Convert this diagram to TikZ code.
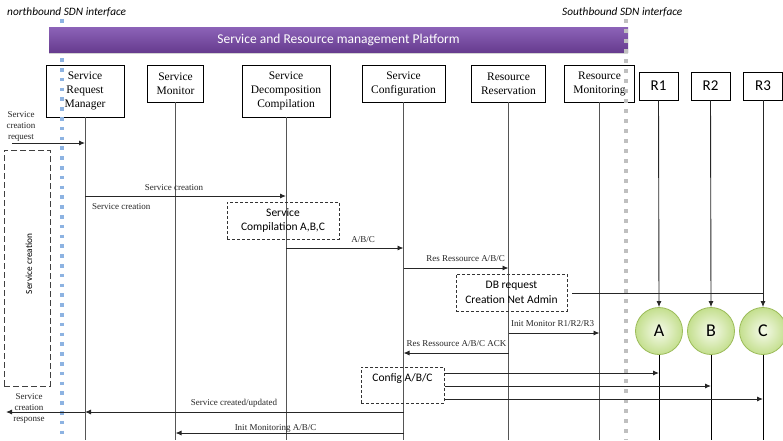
\documentclass[tikz,border=0pt]{standalone}
\usepackage{fontspec}
\setmainfont{Liberation Serif}
\newfontfamily\calfont{Carlito}
\usetikzlibrary{arrows.meta,shadows}
\definecolor{lifegray}{HTML}{555555}
\definecolor{bluedot}{HTML}{8DB3E2}
\definecolor{graydot}{HTML}{BFBFBF}
\definecolor{purtop}{HTML}{8C63B8}
\definecolor{purbot}{HTML}{673C8F}
\definecolor{circin}{HTML}{F5FAEA}
\definecolor{circout}{HTML}{C4DF8E}
\definecolor{circedge}{HTML}{9BBB59}
\tikzset{
  objbox/.style={draw=black, line width=0.8pt, align=center, inner sep=1pt,
    font=\fontsize{11.5}{14}\selectfont},
  rbox/.style={draw=black, line width=0.8pt, minimum width=39pt, minimum height=28pt,
    font=\calfont\fontsize{15}{17}\selectfont},
  lifeline/.style={draw=lifegray, line width=1pt},
  msg/.style={draw=black!85, line width=0.9pt, -{Latex[length=6pt,width=5pt]}},
  plain/.style={draw=black!85, line width=0.9pt},
  note/.style={draw=black!80, line width=0.8pt, dash pattern=on 3pt off 2pt, align=center,
    font=\calfont\fontsize{11.5}{14.5}\selectfont},
  lbl/.style={inner sep=0pt, text=black!85, font=\fontsize{9}{11}\selectfont, align=center},
  circ/.style={circle, draw=circedge, line width=0.8pt, minimum size=47pt, inner sep=0pt,
    inner color=circin, outer color=circout, font=\calfont\fontsize{18}{20}\selectfont},
  iface/.style={inner sep=0pt, anchor=west, font=\calfont\itshape\fontsize{11.3}{13}\selectfont},
}
\begin{document}
\begin{tikzpicture}[x=1pt,y=-1pt]
\useasboundingbox (0,0) rectangle (783,440);

% interface captions
\node[iface] (nb) at (7,12) {northbound SDN interface};
\node[iface] (sb) at (562,12) {Southbound SDN interface};

% object boxes
\node[objbox, minimum width=78pt, minimum height=52pt] (srm) at (85,91) {Service\\Request\\Manager};
\node[objbox, minimum width=56pt, minimum height=37pt] (sm) at (175.5,83.5) {Service\\Monitor};
\node[objbox, minimum width=88pt, minimum height=52pt] (sdc) at (286,91) {Service\\Decomposition\\Compilation};
\node[objbox, minimum width=83pt, minimum height=37pt] (sc) at (403.5,83.5) {Service\\Configuration};
\node[objbox, minimum width=74pt, minimum height=37pt] (rr) at (508.5,83.5) {Resource\\Reservation};
\node[objbox, minimum width=70pt, minimum height=37pt] (rm) at (599.5,83.5) {Resource\\Monitoring};
\node[rbox] (r1) at (658.5,86) {R1};
\node[rbox] (r2) at (710.5,86) {R2};
\node[rbox] (r3) at (763,86) {R3};

% circles
\node[circ] (ca) at (659,331) {A};
\node[circ] (cb) at (711,331) {B};
\node[circ] (cc) at (763,331) {C};

% bottom coordinates
\coordinate (bot) at (0,440);
\coordinate (leftin) at (12,143);
\coordinate (leftout) at (6,412);

% lifelines
\draw[lifeline] (srm.south) -- (srm.south |- bot);
\draw[lifeline] (sm.south) -- (sm.south |- bot);
\draw[lifeline] (sdc.south) -- (sdc.south |- bot);
\draw[lifeline] (sc.south) -- (sc.south |- bot);
\draw[lifeline] (rr.south) -- (rr.south |- bot);
\draw[lifeline] (rm.south) -- (rm.south |- bot);
\draw[msg] (r1.south) -- (ca.north);
\draw[msg] (r2.south) -- (cb.north);
\draw[msg] (r3.south) -- (cc.north);
\draw[lifeline, draw=black] (ca.south) -- (ca.south |- bot);
\draw[lifeline, draw=black] (cb.south) -- (cb.south |- bot);
\draw[lifeline, draw=black] (cc.south) -- (cc.south |- bot);

% northbound dotted line (under the banner)
\draw[line width=3.5pt, draw=bluedot, dash pattern=on 3.5pt off 6.3pt] (62,19) -- (62,440);

% banner
\node[minimum width=579pt, minimum height=25pt, inner sep=0pt, top color=purtop, bottom color=purbot,
  drop shadow={shadow xshift=0pt, shadow yshift=-2pt, opacity=0.35},
  text=white, font=\calfont\fontsize{13.5}{15}\selectfont] (banner) at (338.5,39.5) {Service and Resource management Platform};

% southbound dotted line
\draw[line width=4pt, draw=graydot, dash pattern=on 4pt off 6pt] (626,19) -- (626,440);

% service creation request
\node[lbl] (screq) at (21,126) {Service\\creation\\request};
\draw[msg] (leftin) -- (srm.south |- leftin);

% big dashed box
\node[draw=black!75, line width=0.8pt, dash pattern=on 6pt off 3pt, minimum width=46pt, minimum height=236pt] (scbox) at (27,268) {};
\node[rotate=90, inner sep=0pt, font=\calfont\fontsize{9.3}{10}\selectfont] (sctext) at (29,264) {Service creation};

% messages
\draw[msg] (srm.south |- 0,196) -- (sdc.south |- 0,196);
\node[lbl] (l1) at (174,188) {Service creation};
\node[lbl, anchor=west] (l2) at (92,207) {Service creation};

\node[note, minimum width=112pt, minimum height=37pt] (comp) at (283,220.5) {Service\\Compilation A,B,C};

\draw[msg] (sdc.south |- 0,248) -- (sc.south |- 0,248);
\node[lbl] (l3) at (363,240) {A/B/C};

\draw[msg] (sc.south |- 0,268) -- (rr.south |- 0,268);
\node[lbl] (l4) at (465.5,259) {Res Ressource A/B/C};

\node[note, minimum width=111pt, minimum height=37pt, inner sep=1pt] (db) at (511.5,292.5) {DB request\\Creation Net Admin};
\coordinate (dbline) at (572,293);
\draw[plain] (dbline) -- (cc.north |- dbline);

\draw[msg] (rr.south |- 0,333) -- (rm.south |- 0,333);
\node[lbl] (l5) at (552.5,324) {Init Monitor R1/R2/R3};

\draw[msg] (rr.south |- 0,353) -- (sc.south |- 0,353);
\node[lbl] (l6) at (456.5,344) {Res Ressource A/B/C ACK};

\node[note, minimum width=83pt, minimum height=36pt, anchor=north west] (cfg) at (361,367) {};
\node[inner sep=0pt, font=\calfont\fontsize{11.5}{13}\selectfont] (cfgtext) at (402.5,378) {Config A/B/C};
\draw[msg] (cfg.east |- 0,373) -- (ca.south |- 0,373);
\draw[msg] (cfg.east |- 0,386) -- (cb.south |- 0,386);
\draw[msg] (cfg.east |- 0,399) -- (cc.south |- 0,399);

\draw[msg] (sc.south |- 0,412) -- (srm.south |- 0,412);
\node[lbl] (l7) at (234,403) {Service created/updated};
\draw[msg] (srm.south |- leftout) -- (leftout);
\node[lbl] (scresp) at (29,408) {Service\\creation\\response};

\draw[msg] (sc.south |- 0,433) -- (sm.south |- 0,433);
\node[lbl] (l8) at (275.5,428) {Init Monitoring A/B/C};
\end{tikzpicture}
\end{document}
